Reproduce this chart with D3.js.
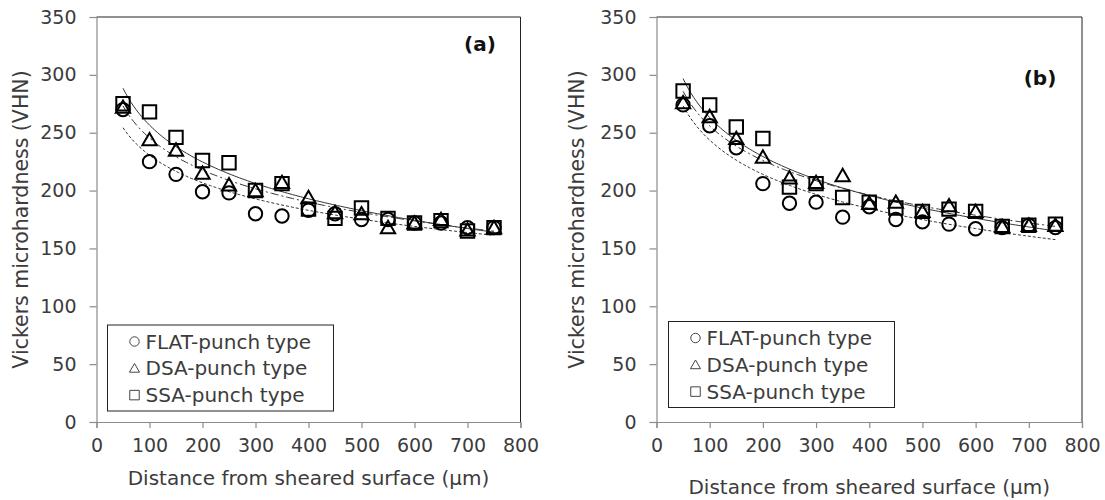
<!DOCTYPE html>
<html>
<head>
<meta charset="utf-8">
<script src="https://cdn.jsdelivr.net/npm/d3@7"></script>
<style>
  html, body { margin: 0; padding: 0; background: #fff; }
  svg { display: block; font-family: "DejaVu Sans", sans-serif; }
</style>
</head>
<body>
<div id="chart"></div>
<script>
// ========== DATA ==========
const distance = [50, 100, 150, 200, 250, 300, 350, 400, 450, 500, 550, 600, 650, 700, 750];
const xTicks = [0, 100, 200, 300, 400, 500, 600, 700, 800];
const yTicks = [0, 50, 100, 150, 200, 250, 300, 350];
const seriesNames = ['FLAT-punch type', 'DSA-punch type', 'SSA-punch type'];

// panel (a)
const flatA = [270, 225, 214, 199, 198, 180, 178, 183, 180, 175, 175, 172, 172, 168, 168];
const dsaA  = [272, 244, 235, 215, 205, 200, 207, 194, 181, 180, 168, 172, 175, 166, 168];
const ssaA  = [275, 268, 246, 226, 224, 200, 206, 184, 176, 185, 176, 172, 174, 165, 168];

// panel (b)
const flatB = [274, 256, 237, 206, 189, 190, 177, 186, 175, 173, 171, 167, 168, 170, 168];
const dsaB  = [276, 264, 245, 229, 211, 207, 213, 189, 190, 182, 187, 182, 169, 170, 170];
const ssaB  = [286, 274, 255, 245, 203, 206, 194, 190, 185, 182, 184, 182, 169, 170, 171];

// ========== LAYOUT ==========
const W = 1105, H = 500;
const svg = d3.select('#chart').append('svg').attr('width', W).attr('height', H);

const textColor = '#3c3c3c';
const axisColor = '#8c8c8c';
const symbols = [d3.symbolCircle, d3.symbolTriangle, d3.symbolSquare];
const markerSize = [140, 88, 180];
const lineStyles = ['3,2', '8,3,2,3', null]; // FLAT short dash, DSA dash-dot, SSA solid

// logarithmic trendline y = c*ln(x) + d (least squares, like Excel)
function logFit(xs, ys) {
    const lx = xs.map(Math.log);
    const mx = d3.mean(lx), my = d3.mean(ys);
    let sxy = 0, sxx = 0;
    lx.forEach((v, i) => { sxy += (v - mx) * (ys[i] - my); sxx += (v - mx) * (v - mx); });
    const c = sxy / sxx;
    const d = my - c * mx;
    return x => c * Math.log(x) + d;
}

function drawPanel(p) {
    const x = d3.scaleLinear().domain([0, 800]).range([p.x0, p.x1]);
    const y = d3.scaleLinear().domain([0, 350]).range([p.y0, p.y1]);
    const g = svg.append('g');

    // plot frame (top + right)
    g.append('path')
        .attr('d', `M${p.x0},${p.y1}H${p.x1}V${p.y0}`)
        .attr('fill', 'none').attr('stroke', '#222').attr('stroke-width', 1);

    // axes
    const xAxis = g.append('g').attr('transform', `translate(0,${p.y0})`)
        .call(d3.axisBottom(x).tickValues(xTicks).tickSize(6).tickPadding(14));
    const yAxis = g.append('g').attr('transform', `translate(${p.x0},0)`)
        .call(d3.axisLeft(y).tickValues(yTicks).tickSize(7).tickPadding(13));
    [xAxis, yAxis].forEach(ax => {
        ax.select('.domain').attr('stroke', axisColor).attr('stroke-width', 1.2);
        ax.selectAll('.tick line').attr('stroke', axisColor).attr('stroke-width', 1.2);
        ax.selectAll('.tick text').attr('fill', textColor)
            .style('font-family', '"DejaVu Sans", sans-serif').style('font-size', '19px');
    });
    xAxis.selectAll('.tick text').attr('dy', '0.55em');

    // axis titles
    g.append('text')
        .attr('x', (p.x0 + p.x1) / 2).attr('y', p.xTitleY)
        .attr('text-anchor', 'middle').attr('fill', textColor)
        .style('font-size', '20px')
        .text('Distance from sheared surface (µm)');
    g.append('text')
        .attr('transform', `translate(${p.yTitleX},${(p.y0 + p.y1) / 2}) rotate(-90)`)
        .attr('text-anchor', 'middle').attr('dominant-baseline', 'central').attr('fill', textColor)
        .style('font-size', '20.5px')
        .text('Vickers microhardness (VHN)');

    // panel label
    g.append('text')
        .attr('x', p.labelX).attr('y', p.labelY)
        .attr('text-anchor', 'middle').attr('fill', '#111')
        .style('font-size', '20px').style('font-weight', 'bold')
        .text(p.label);

    // trendlines
    const samples = d3.range(50, 751, 5);
    p.series.forEach((vals, i) => {
        const f = logFit(distance, vals);
        g.append('path')
            .datum(samples)
            .attr('d', d3.line().x(d => x(d)).y(d => y(f(d))))
            .attr('fill', 'none').attr('stroke', '#333').attr('stroke-width', 1)
            .attr('stroke-dasharray', lineStyles[i]);
    });

    // markers
    p.series.forEach((vals, i) => {
        g.append('g').selectAll('path')
            .data(vals)
            .enter().append('path')
            .attr('transform', (d, j) => `translate(${x(distance[j])},${y(d) + (i === 1 ? 1.5 : 0)})`)
            .attr('d', d3.symbol().type(symbols[i]).size(markerSize[i]))
            .attr('fill', 'none').attr('stroke', '#000').attr('stroke-width', 2);
    });

    // legend
    const lg = g.append('g');
    lg.append('rect')
        .attr('x', p.legX).attr('y', p.legY).attr('width', 226).attr('height', 86)
        .attr('fill', '#fff').attr('stroke', '#222').attr('stroke-width', 1);
    seriesNames.forEach((name, i) => {
        const cy = p.legY + 16.5 + i * 26.8;
        lg.append('path')
            .attr('transform', `translate(${p.legX + 27},${cy + (i === 1 ? 1 : 0)})`)
            .attr('d', d3.symbol().type(symbols[i]).size(markerSize[i] * 0.5))
            .attr('fill', 'none').attr('stroke', '#444').attr('stroke-width', 1);
        lg.append('text')
            .attr('x', p.legX + 38).attr('y', cy)
            .attr('dominant-baseline', 'central').attr('fill', textColor)
            .style('font-size', '20px')
            .text(name);
    });
}

drawPanel({
    x0: 96.5, x1: 520.5, y0: 422, y1: 17,
    xTitleY: 485, yTitleX: 21,
    label: '(a)', labelX: 480, labelY: 51,
    legX: 107.5, legY: 325,
    series: [flatA, dsaA, ssaA]
});
drawPanel({
    x0: 656.5, x1: 1082, y0: 422, y1: 17,
    xTitleY: 494, yTitleX: 577,
    label: '(b)', labelX: 1040, labelY: 85,
    legX: 668.5, legY: 321.5,
    series: [flatB, dsaB, ssaB]
});
</script>
</body>
</html>
